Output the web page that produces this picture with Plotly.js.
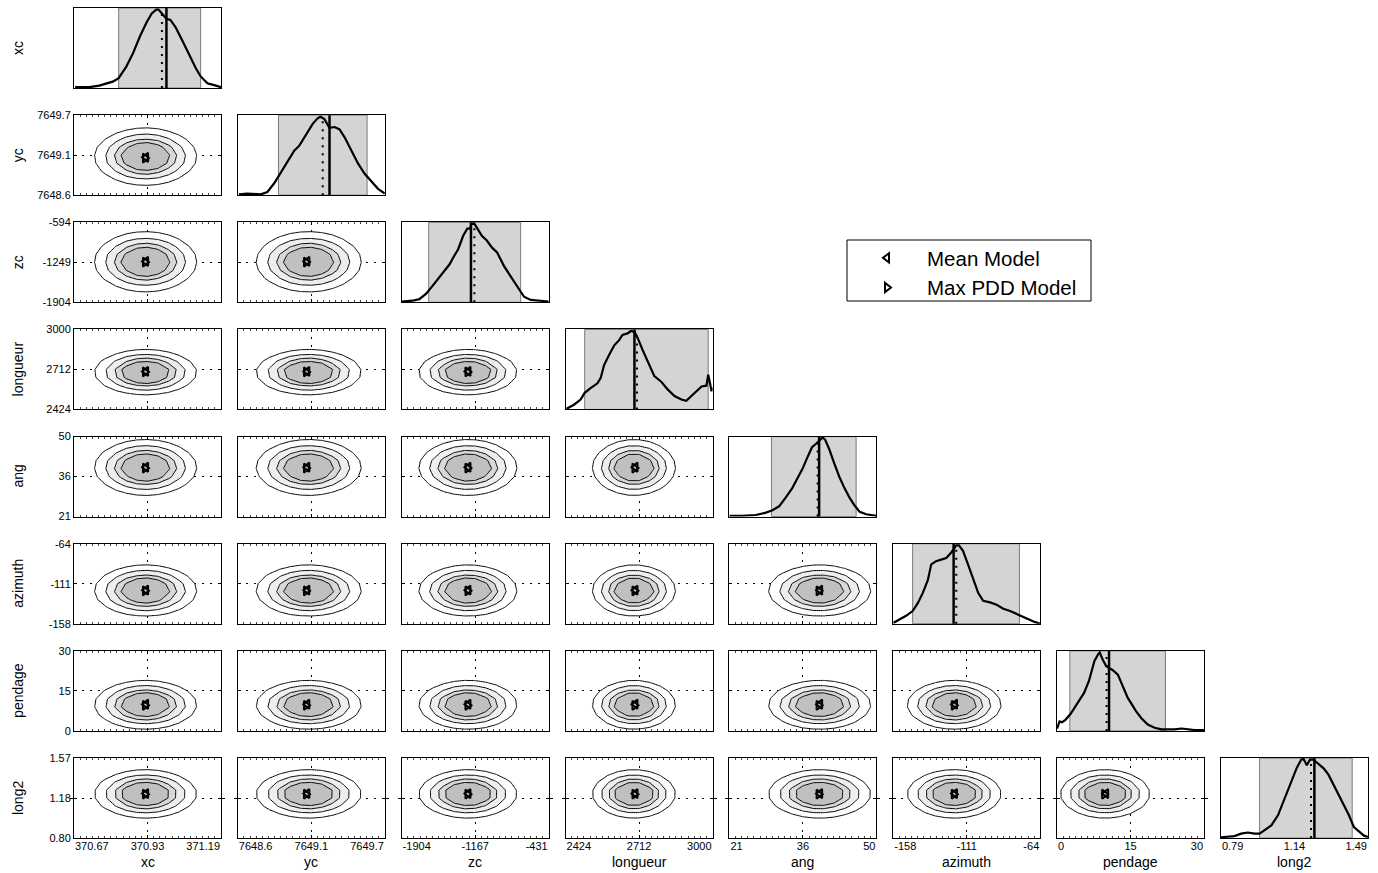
<!DOCTYPE html>
<html><head><meta charset="utf-8">
<script src="https://cdn.plot.ly/plotly-3.0.1.min.js"></script>
<style>html,body{margin:0;padding:0;background:#fff}#chart{width:1378px;height:873px}</style>
</head><body><div id="chart"></div>
<script>
// ---------------- data ----------------
const params = ["xc","yc","zc","longueur","ang","azimuth","pendage","long2"];
const xRanges = [[370.67,371.19],[7648.6,7649.7],[-1904,-431],[2424,3000],[21,50],[-158,-64],[0,30],[0.79,1.49]];
const yRanges = [null,[7648.6,7649.7],[-1904,-594],[2424,3000],[21,50],[-158,-64],[0,30],[0.80,1.57]];
const xTickText = [["370.67","370.93","371.19"],["7648.6","7649.1","7649.7"],["-1904","-1167","-431"],["2424","2712","3000"],["21","36","50"],["-158","-111","-64"],["0","15","30"],["0.79","1.14","1.49"]];
const yTickText = [null,["7648.6","7649.1","7649.7"],["-1904","-1249","-594"],["2424","2712","3000"],["21","36","50"],["-158","-111","-64"],["0","15","30"],["0.80","1.18","1.57"]];

// 2D posterior summaries (centre and spread of the contour ellipses)
const centers = [370.923, 7649.13, -1240, 2692, 38.8, -119, 9.8, 1.225];
const spreads = [0.0736, 0.16, 200, 66, 4.1, 12.2, 3.7, 0.094];
// contour rings, as distance from the centre in spread units (outer -> inner)
const ringRadii = [2.45, 1.91, 1.49, 1.16];

// model markers
const meanModel   = [370.925, 7649.12, -1235, 2698, 38.9, -118.5, 10.0, 1.228];
const maxPddModel = [370.921, 7649.11, -1245, 2694, 38.6, -119.3, 9.6, 1.222];

// 1D marginals
const margXc_x = [370.674,370.724,370.759,370.807,370.828,370.855,370.879,370.903,370.927,370.945,370.961,370.969,370.981,370.997,371.011,371.029,371.053,371.077,371.101,371.118,371.142,371.172,371.19];
const margXc_p = [0.01,0.01,0.03,0.08,0.125,0.27,0.44,0.65,0.83,0.94,0.99,0.99,0.94,0.875,0.86,0.77,0.60,0.42,0.25,0.146,0.06,0.03,0.01];
const margYc_x = [7648.608,7648.670,7648.771,7648.821,7648.872,7648.909,7648.947,7648.984,7649.022,7649.060,7649.085,7649.123,7649.160,7649.197,7649.218,7649.248,7649.285,7649.324,7649.361,7649.399,7649.449,7649.499,7649.549,7649.600,7649.649,7649.7];
const margYc_p = [0.01,0.02,0.01,0.04,0.15,0.25,0.35,0.46,0.56,0.625,0.69,0.79,0.9,0.97,0.99,0.96,0.85,0.86,0.83,0.73,0.56,0.40,0.27,0.17,0.08,0.02];
const margZc_x = [-1904,-1795,-1727,-1659,-1593,-1525,-1474,-1424,-1390,-1338,-1288,-1247,-1221,-1203,-1179,-1153,-1101,-1051,-999,-948,-880,-814,-746,-678,-611,-525,-431];
const margZc_p = [0.01,0.02,0.04,0.11,0.21,0.32,0.39,0.48,0.56,0.67,0.84,0.93,0.93,0.99,1.0,0.95,0.84,0.78,0.69,0.63,0.46,0.33,0.20,0.07,0.03,0.02,0.01];
const margLong_x = [2428,2457,2483,2499,2522,2549,2562,2575,2595,2615,2634,2647,2667,2680,2694,2707,2726,2746,2772,2799,2825,2851,2878,2897,2917,2937,2957,2976,2983,2990,2996,3000];
const margLong_p = [0.01,0.06,0.125,0.21,0.27,0.33,0.40,0.56,0.69,0.81,0.875,0.94,0.96,0.99,0.98,0.90,0.75,0.60,0.42,0.35,0.25,0.17,0.125,0.11,0.17,0.23,0.29,0.30,0.44,0.33,0.23,0.28];
const margAng_x = [21.0,23.5,26.2,28.2,29.5,30.8,32.1,33.4,34.4,35.4,36.4,37.3,38.1,38.9,39.4,39.9,40.7,41.7,42.7,43.7,44.7,45.7,46.7,48.0,50.0];
const margAng_p = [0.01,0.01,0.02,0.05,0.08,0.13,0.24,0.36,0.48,0.60,0.75,0.875,0.92,0.97,1.0,0.97,0.85,0.67,0.5,0.36,0.24,0.14,0.06,0.03,0.01];
const margAzi_x = [-158,-154.1,-149.8,-145.6,-142.3,-139.1,-135.9,-133.7,-130.6,-127.4,-124.1,-120.9,-117.7,-116.0,-113.4,-110.2,-107.0,-103.7,-100.5,-96.1,-91.9,-87.6,-83.3,-79.0,-74.7,-70.4,-67.2,-64];
const margAzi_p = [0.01,0.05,0.10,0.16,0.26,0.39,0.55,0.75,0.79,0.81,0.83,0.90,0.99,0.99,0.92,0.75,0.56,0.39,0.29,0.27,0.24,0.19,0.16,0.12,0.09,0.05,0.02,0.0];
const margPen_x = [0,0.5,1.0,1.7,2.8,4.1,5.5,6.5,7.6,8.4,8.7,9.3,10.0,10.7,11.3,12.4,13.4,14.4,15.1,16.1,17.2,18.5,19.9,21.3,22.7,24.0,25.4,26.8,28.1,30];
const margPen_p = [0.03,0.12,0.11,0.14,0.22,0.35,0.48,0.63,0.88,0.97,0.99,0.90,0.82,0.79,0.77,0.71,0.56,0.42,0.35,0.25,0.16,0.08,0.04,0.02,0.02,0.02,0.03,0.02,0.01,0.01];
const margLong2_x = [0.790,0.854,0.886,0.918,0.950,0.974,0.998,1.030,1.062,1.094,1.127,1.150,1.172,1.183,1.199,1.214,1.230,1.246,1.279,1.302,1.335,1.367,1.399,1.423,1.447,1.471,1.49];
const margLong2_p = [0.01,0.025,0.055,0.07,0.055,0.055,0.10,0.16,0.29,0.50,0.71,0.88,0.99,1.0,0.92,0.99,0.99,0.95,0.88,0.80,0.63,0.46,0.29,0.14,0.08,0.03,0.015];

const credLow  = [370.828, 7648.904, -1633, 2499, 29.3, -145.6, 2.6, 0.974];
const credHigh = [371.118, 7649.567, -712, 2983, 46.0, -77.3, 22.1, 1.415];
const margMeanLine = [370.997, 7649.286, -1210, 2694, 38.7, -119.4, 10.6, 1.235];
const margMaxLine  = [370.981, 7649.235, -1176, 2704, 38.4, -117.7, 10.1, 1.219];

// ---------------- build figure ----------------
const margX = [margXc_x, margYc_x, margZc_x, margLong_x, margAng_x, margAzi_x, margPen_x, margLong2_x];
const margP = [margXc_p, margYc_p, margZc_p, margLong_p, margAng_p, margAzi_p, margPen_p, margLong2_p];

const W = 1378, H = 873;
const COL0 = 74, COLSTEP = 163.85, PW = 147;
const ROW0 = 8, ROWSTEP = 107.15, PH = 80;
const N = params.length;
const FONT = '"Liberation Sans", Arial, Helvetica, sans-serif';

const layout = {
  width: W, height: H, margin: {l:0, r:0, t:0, b:0},
  paper_bgcolor: '#fff', plot_bgcolor: '#fff',
  font: {family: FONT, size: 11, color: '#000'},
  showlegend: true,
  legend: {x: 847/W, y: 1 - 238/H, xanchor: 'left', yanchor: 'top', bgcolor: 'rgba(0,0,0,0)',
           borderwidth: 0, font: {size: 20.5, family: FONT, color: '#000'}, itemwidth: 70, tracegroupgap: 0},
  shapes: [], annotations: []
};
const traces = [];

const cs = [[0,'rgba(255,255,255,0)'],[0.125,'rgba(255,255,255,0)'],[0.125,'#ffffff'],[0.375,'#ffffff'],
            [0.375,'#eeeeee'],[0.625,'#eeeeee'],[0.625,'#d8d8d8'],[0.875,'#d8d8d8'],[0.875,'#c0c0c0'],[1,'#c0c0c0']];

// contour variable: -ln(distance); rings are evenly spaced in it
const lvl = ringRadii.map(r => -Math.log(r));
const lvlStart = lvl[0], lvlSize = (lvl[lvl.length - 1] - lvl[0]) / (lvl.length - 1);

function lin(a, b, n) { const o = []; for (let t = 0; t < n; t++) o.push(a + (b - a) * t / (n - 1)); return o; }
const axName = k => (k === 1 ? '' : String(k));
const idx = {};
let k = 0;
let legendDone = false;

for (let i = 0; i < N; i++) {
  for (let j = 0; j <= i; j++) {
    k++; idx[i + ',' + j] = k;
    const xa = 'xaxis' + axName(k), ya = 'yaxis' + axName(k);
    const xr = 'x' + axName(k), yr = 'y' + axName(k);
    const xd = [(COL0 + COLSTEP * j) / W, (COL0 + COLSTEP * j + PW) / W];
    const yd = [1 - (ROW0 + ROWSTEP * i + PH) / H, 1 - (ROW0 + ROWSTEP * i) / H];
    const [xlo, xhi] = xRanges[j];
    const base = {showline: true, linecolor: '#000', linewidth: 1, mirror: true, zeroline: false, fixedrange: true};
    if (i === j) {
      layout[xa] = Object.assign({}, base, {domain: xd, anchor: yr, range: [xlo, xhi], showgrid: false, ticks: '', showticklabels: false});
      layout[ya] = Object.assign({}, base, {domain: yd, anchor: xr, range: [0, 1.01], showgrid: false, ticks: '', showticklabels: false});
      layout.shapes.push({type: 'rect', xref: xr, yref: yr + ' domain', x0: credLow[j], x1: credHigh[j], y0: 0, y1: 1,
        fillcolor: '#d4d4d4', line: {color: '#7a7a7a', width: 1}, layer: 'below'});
      layout.shapes.push({type: 'line', xref: xr, yref: yr + ' domain', x0: margMeanLine[j], x1: margMeanLine[j], y0: 0, y1: 1,
        line: {color: '#000', width: 2.5}, layer: 'below'});
      layout.shapes.push({type: 'line', xref: xr, yref: yr + ' domain', x0: margMaxLine[j], x1: margMaxLine[j], y0: 0, y1: 1,
        line: {color: '#000', width: 2, dash: '2px,6px'}, layer: 'below'});
      traces.push({type: 'scatter', mode: 'lines', x: margX[j], y: margP[j], xaxis: xr, yaxis: yr,
        line: {color: '#000', width: 2.2}, showlegend: false, hoverinfo: 'skip'});
    } else {
      const [ylo, yhi] = yRanges[i];
      layout[xa] = Object.assign({}, base, {domain: xd, anchor: yr, range: [xlo, xhi],
        tickvals: [xlo, (xlo + xhi) / 2, xhi], showticklabels: false, ticks: 'inside', ticklen: 3, tickcolor: '#000',
        mirror: 'allticks', showgrid: true, gridcolor: '#000', griddash: '2px,6px', gridwidth: 1,
        minor: {ticks: 'inside', ticklen: 2, dtick: (xhi - xlo) / 24, tick0: xlo, tickcolor: '#444', showgrid: false}});
      layout[ya] = Object.assign({}, base, {domain: yd, anchor: xr, range: [ylo, yhi],
        tickvals: [ylo, (ylo + yhi) / 2, yhi], ticktext: yTickText[i], showticklabels: j === 0,
        ticks: 'inside', ticklen: 3, tickcolor: '#000', mirror: 'allticks',
        showgrid: true, gridcolor: '#000', griddash: '2px,6px', gridwidth: 1, tickfont: {size: 11}});
      // evaluation grid built from the read centres / spreads
      const gx = lin(xlo, xhi, 15), gy = lin(ylo, yhi, 11);
      const z = gy.map(yv => gx.map(xv => {
        const r = Math.sqrt(Math.pow((xv - centers[j]) / spreads[j], 2) + Math.pow((yv - centers[i]) / spreads[i], 2));
        return -Math.log(Math.max(r, 0.02));
      }));
      traces.push({type: 'contour', x: gx, y: gy, z: z, xaxis: xr, yaxis: yr, showscale: false,
        autocontour: false, contours: {start: lvlStart, end: lvlStart + lvlSize * (lvl.length - 1) + 1e-9,
        size: lvlSize, coloring: 'fill', showlines: true},
        line: {color: '#000', width: 1, smoothing: 0}, colorscale: cs, hoverinfo: 'skip', showlegend: false});
      traces.push({type: 'scatter', mode: 'markers', x: [meanModel[j]], y: [meanModel[i]], xaxis: xr, yaxis: yr,
        name: 'Mean Model', showlegend: !legendDone, hoverinfo: 'skip',
        marker: {symbol: 'triangle-left-open', size: 8, color: '#000', line: {width: 2, color: '#000'}}});
      traces.push({type: 'scatter', mode: 'markers', x: [maxPddModel[j]], y: [maxPddModel[i]], xaxis: xr, yaxis: yr,
        name: 'Max PDD Model', showlegend: !legendDone, hoverinfo: 'skip',
        marker: {symbol: 'triangle-right-open', size: 8, color: '#000', line: {width: 2, color: '#000'}}});
      legendDone = true;
    }
  }
}

// bottom tick labels: first label left-aligned, last right-aligned (overlay label axes)
const ctx = document.createElement('canvas').getContext('2d');
ctx.font = '11px "Liberation Sans", Arial, sans-serif';
function textW(s) { const w = ctx.measureText(s).width; return w > 0 ? w : s.length * 6; }
for (let j = 0; j < N; j++) {
  const kb = idx['7,' + j];
  const m = 37 + j;
  const [xlo, xhi] = xRanges[j];
  const pxPerUnit = PW / (xhi - xlo);
  const t = xTickText[j];
  const d0 = (textW(t[0]) / 2 + 1) / pxPerUnit;
  const d2 = (textW(t[2]) / 2 + 1) / pxPerUnit;
  layout['xaxis' + m] = {overlaying: 'x' + kb, anchor: 'y' + kb, range: [xlo, xhi], side: 'bottom',
    tickvals: [xlo + d0, (xlo + xhi) / 2, xhi - d2], ticktext: t, showgrid: false, showline: false,
    zeroline: false, ticks: '', fixedrange: true, tickfont: {size: 11, color: '#000'}};
  traces.push({type: 'scatter', mode: 'markers', x: [], y: [], xaxis: 'x' + m, yaxis: 'y' + kb, showlegend: false, hoverinfo: 'skip'});
}

// axis titles
for (let i = 0; i < N; i++) {
  layout.annotations.push({text: params[i], xref: 'paper', yref: 'paper', x: 18 / W,
    y: 1 - (ROW0 + ROWSTEP * i + PH / 2) / H, textangle: -90, showarrow: false,
    xanchor: 'center', yanchor: 'middle', font: {size: 14, family: FONT, color: '#000'}});
}
for (let j = 0; j < N; j++) {
  layout.annotations.push({text: params[j], xref: 'paper', yref: 'paper', x: (COL0 + COLSTEP * j + PW / 2) / W,
    y: 1 - 862 / H, showarrow: false, xanchor: 'center', yanchor: 'middle',
    font: {size: 14, family: FONT, color: '#000'}});
}
// legend frame
layout.shapes.push({type: 'rect', xref: 'paper', yref: 'paper', x0: 847 / W, x1: 1091 / W, y0: 1 - 301 / H, y1: 1 - 240 / H,
  line: {color: '#000', width: 1}, fillcolor: 'rgba(0,0,0,0)', layer: 'above'});

Plotly.newPlot('chart', traces, layout, {staticPlot: true, displayModeBar: false});
</script>
</body></html>
